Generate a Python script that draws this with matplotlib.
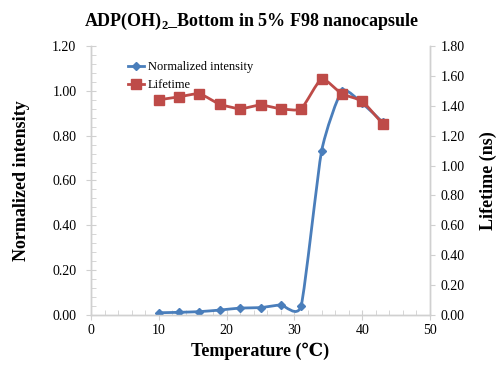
import numpy as np
import matplotlib
matplotlib.use('Agg')
import matplotlib.pyplot as plt
from matplotlib.path import Path
from matplotlib.patches import PathPatch
from matplotlib.lines import Line2D
from matplotlib.ticker import MultipleLocator, FormatStrFormatter

plt.rcParams['font.family'] = ['Liberation Serif', 'DejaVu Serif']
plt.rcParams['mathtext.fontset'] = 'custom'
plt.rcParams['mathtext.rm'] = 'Liberation Serif'
plt.rcParams['mathtext.bf'] = 'Liberation Serif:bold'

# data
temperature = [10, 13, 16, 19, 22, 25, 28, 31, 34, 37, 40, 43]
intensity = [0.010, 0.012, 0.015, 0.022, 0.031, 0.033, 0.045, 0.042, 0.73, 1.00, 0.945, 0.86]
lifetime = [1.44, 1.46, 1.48, 1.41, 1.38, 1.405, 1.38, 1.38, 1.58, 1.48, 1.43, 1.28]

BLUE = '#4A7EBB'
RED = '#BE4B48'
AXIS_GRAY = '#D0D0D0'


def smooth_path(xs, ys, k=0.09):
    """Excel-like smoothed line: cubic Bezier through the points."""
    pts = np.column_stack([xs, ys]).astype(float)
    n = len(pts)
    verts = [pts[0]]
    codes = [Path.MOVETO]
    for i in range(n - 1):
        p0 = pts[max(i - 1, 0)]
        p1 = pts[i]
        p2 = pts[i + 1]
        p3 = pts[min(i + 2, n - 1)]
        c1 = p1 + (p2 - p0) * k
        c2 = p2 - (p3 - p1) * k
        verts += [c1, c2, p2]
        codes += [Path.CURVE4] * 3
    return Path(verts, codes)


fig = plt.figure(figsize=(5.04, 3.66), dpi=100)
ax = fig.add_axes([91 / 504, 1 - 315 / 366, 339 / 504, 269 / 366])
ax2 = ax.twinx()

ax.add_patch(PathPatch(smooth_path(temperature, intensity), facecolor='none',
                       edgecolor=BLUE, lw=2, zorder=3))
ax.plot(temperature, intensity, ls='none', marker='D', ms=4, color=BLUE, zorder=4)

ax2.add_patch(PathPatch(smooth_path(temperature, lifetime), facecolor='none',
                        edgecolor=RED, lw=2, zorder=3))
ax2.plot(temperature, lifetime, ls='none', marker='s', ms=7, color=RED, zorder=4)

ax.set_xlim(0, 50)
ax.set_ylim(0, 1.2)
ax2.set_ylim(0, 1.8)

ax.xaxis.set_major_locator(MultipleLocator(10))
ax.xaxis.set_minor_locator(MultipleLocator(2))
ax.yaxis.set_major_locator(MultipleLocator(0.2))
ax.yaxis.set_minor_locator(MultipleLocator(0.04))
ax.yaxis.set_major_formatter(FormatStrFormatter('%.2f'))
ax2.yaxis.set_major_locator(MultipleLocator(0.2))
ax2.yaxis.set_major_formatter(FormatStrFormatter('%.2f'))

for a in (ax, ax2):
    a.spines['top'].set_visible(False)
    for s in ('left', 'right', 'bottom'):
        a.spines[s].set_color(AXIS_GRAY)
        a.spines[s].set_linewidth(1)

ax.tick_params(which='major', direction='inout', length=7, color=AXIS_GRAY,
               labelsize=10, pad=3)
ax.tick_params(axis='y', which='major', pad=7)
ax.tick_params(which='minor', direction='in', length=3.5, color=AXIS_GRAY)
ax2.tick_params(which='major', direction='out', length=3.5, color=AXIS_GRAY,
                labelsize=10, pad=4)

ax.set_xlabel('Temperature (℃)', fontsize=13, fontweight='bold', labelpad=4)
ax.set_ylabel('Normalized intensity', fontsize=13, fontweight='bold', labelpad=16)
ax2.set_ylabel('Lifetime (ns)', fontsize=13, fontweight='bold', labelpad=11)
fig.suptitle(r'ADP(OH)$_\mathbf{2}$_Bottom in 5% F98 nanocapsule', x=0.5, y=0.97,
             fontsize=13, fontweight='bold')

handles = [Line2D([], [], color=BLUE, lw=2, marker='D', ms=4),
           Line2D([], [], color=RED, lw=2, marker='s', ms=7)]
ax.legend(handles, ['Normalized intensity', 'Lifetime'], loc='upper left',
          bbox_to_anchor=(0.075, 0.985), frameon=False, fontsize=9,
          handlelength=1.3, handletextpad=0.3, labelspacing=0.45)

fig.savefig('out.png', dpi=100)
